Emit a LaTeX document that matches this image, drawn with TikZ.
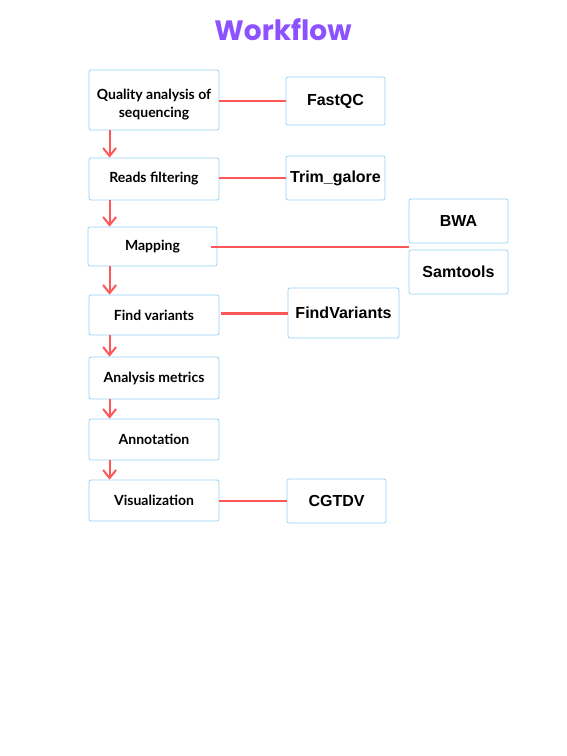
\documentclass[tikz,border=0pt]{standalone}
\usepackage{fontspec}
\setmainfont{Lato}
\newfontfamily\toolfont{Liberation Sans}
\newfontfamily\titlefont{Poppins}
\usetikzlibrary{arrows.meta}
\definecolor{boxblue}{RGB}{150,210,245}
\definecolor{linered}{RGB}{255,87,87}
\definecolor{titlepurple}{RGB}{140,82,255}

\begin{document}
\begin{tikzpicture}[x=1pt,y=-1pt,
    stage/.style={draw=boxblue, line width=0.8pt, rounded corners=2pt, minimum width=130pt,
      align=center, font=\fontsize{14}{18}\selectfont\bfseries},
    tool/.style={draw=boxblue, line width=0.8pt, rounded corners=2pt, minimum width=99pt,
      font=\toolfont\fontsize{16}{19}\selectfont\bfseries},
    link/.style={draw=linered, line width=2pt},
    flow/.style={draw=linered, line width=2pt, -{Straight Barb[length=8pt,width=13pt]}}]
        \useasboundingbox (0,0) rectangle (567,756);
        \node[text=titlepurple, font=\titlefont\fontsize{28}{32}\selectfont\bfseries] (title) at (283,30) {Workflow};
        % pipeline steps
        \node[stage, minimum height=60pt, text height=38pt, text depth=3pt] (qa) at (154,100) {Quality analysis of\\sequencing};
        \node[stage, minimum height=42pt] (rf) at (154,179) {Reads filtering};
        \node[stage, minimum width=129pt, minimum height=39pt] (map) at (152.5,246.5) {Mapping};
        \node[stage, minimum height=40pt] (fv) at (154,315) {Find variants};
        \node[stage, minimum height=42pt] (am) at (154,378) {Analysis metrics};
        \node[stage, minimum height=41pt] (ann) at (154,439.5) {Annotation};
        \node[stage, minimum height=41pt] (vis) at (154,500.5) {Visualization};
        % tools
        \node[tool, minimum height=48pt] (fastqc) at (335.5,101) {FastQC};
        \node[tool, minimum height=44pt] (trim) at (335.5,178) {Trim\_galore};
        \node[tool, minimum height=44pt] (bwa) at (458.5,221) {BWA};
        \node[tool, minimum height=44pt] (samtools) at (458.5,272) {Samtools};
        \node[tool, minimum width=111pt, minimum height=50pt] (findvar) at (343.5,313) {FindVariants};
        \node[tool, minimum height=44pt] (cgtdv) at (336.5,501) {CGTDV};
        % steps
        \draw[flow] ([xshift=21pt]qa.south west) -- ([xshift=21pt]rf.north west);
        \draw[flow] ([xshift=21pt]rf.south west) -- ([xshift=22pt]map.north west);
        \draw[flow] ([xshift=22pt]map.south west) -- ([xshift=21pt]fv.north west);
        \draw[flow] ([xshift=21pt]fv.south west) -- ([xshift=21pt]am.north west);
        \draw[flow] ([xshift=21pt]am.south west) -- ([xshift=21pt]ann.north west);
        \draw[flow] ([xshift=21pt]ann.south west) -- ([xshift=21pt]vis.north west);
        % tool links
        \draw[link] (qa.east |- fastqc.west) -- (fastqc.west);
        \draw[link] (rf.east |- trim.west) -- (trim.west);
        \draw[link] ([xshift=-6pt]map.east) -- (map.east -| bwa.west);
        \draw[link, line width=3pt] ([xshift=2pt]fv.east |- findvar.west) -- (findvar.west);
        \draw[link] (vis.east |- cgtdv.west) -- (cgtdv.west);
    \end{tikzpicture}
\end{document}
